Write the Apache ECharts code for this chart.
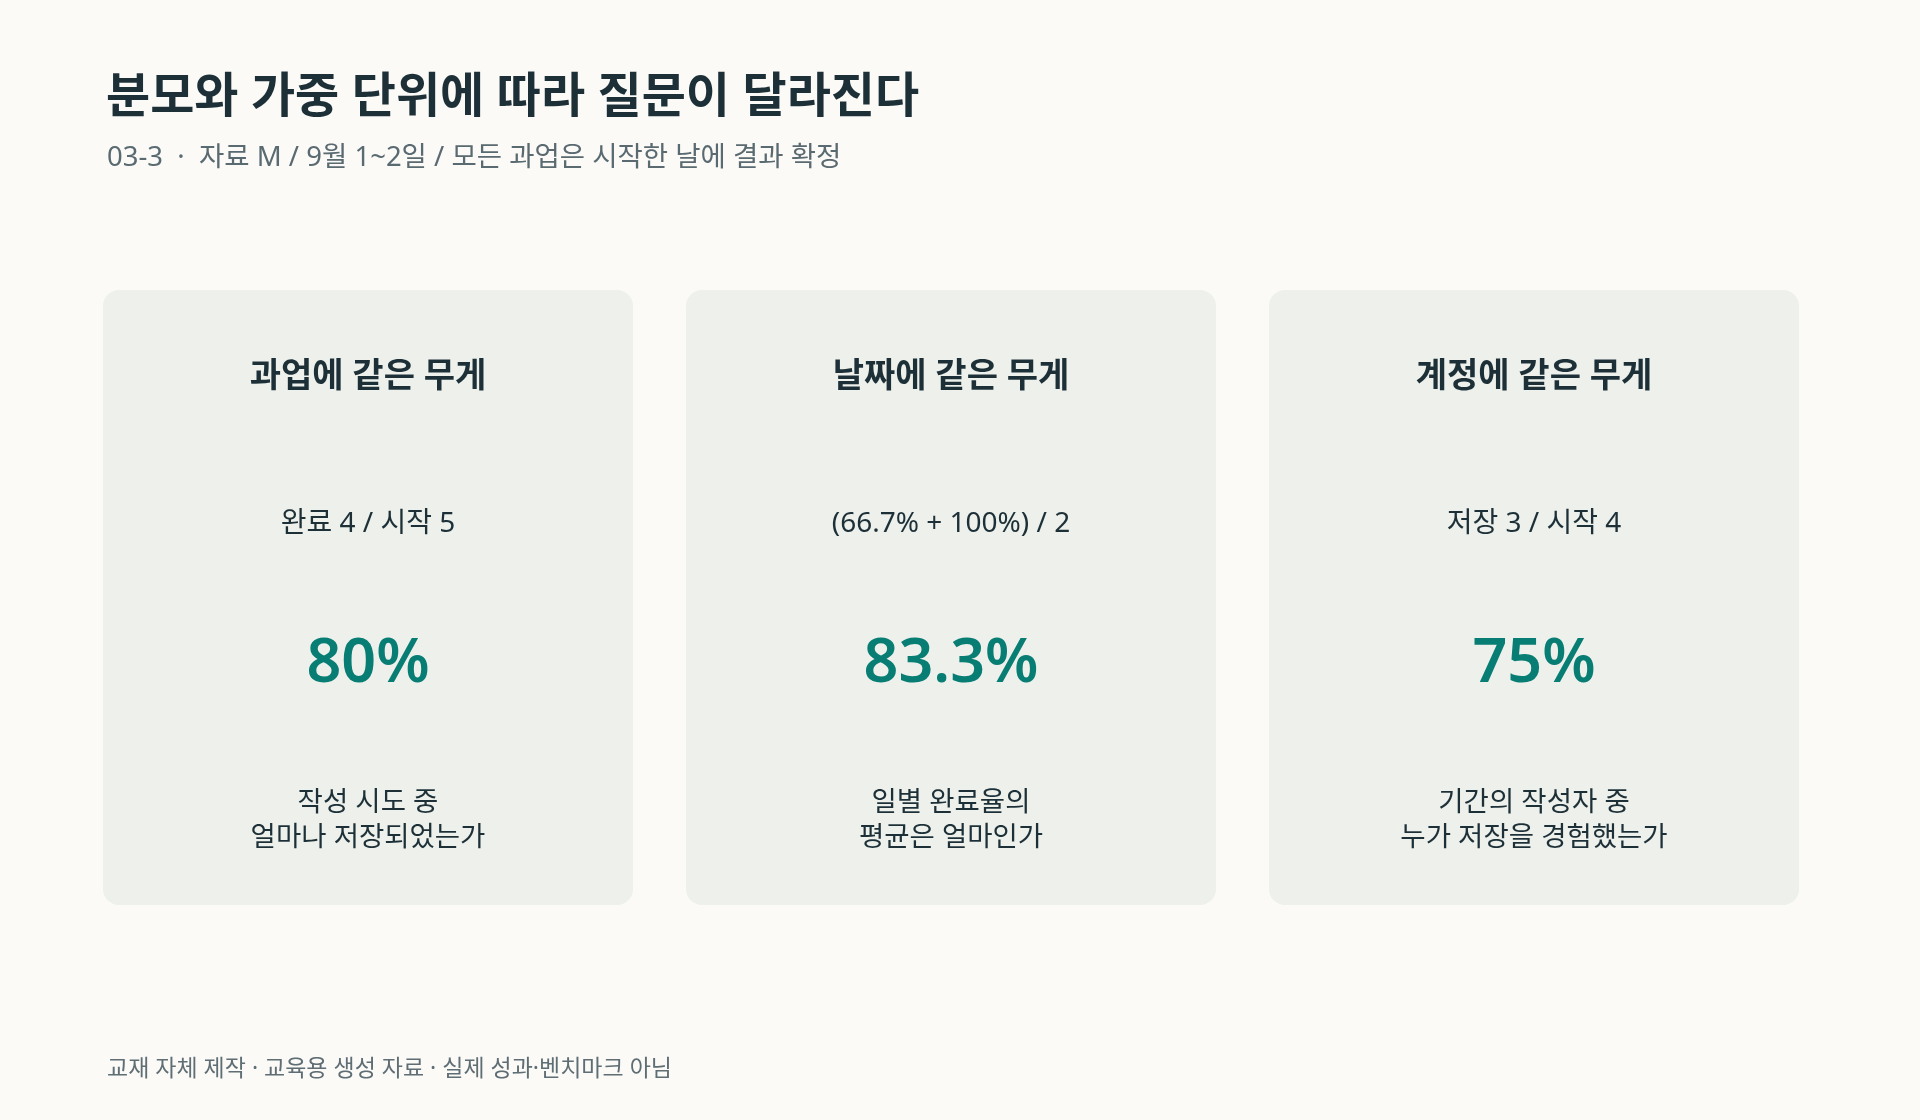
<!DOCTYPE html>
<html>
<head>
<meta charset="utf-8">
<script src="https://cdn.jsdelivr.net/npm/echarts@6/dist/echarts.min.js"></script>
<style>
  html, body { margin: 0; padding: 0; background: #fbfaf7; }
  #main { width: 1920px; height: 1120px; }
</style>
</head>
<body>
<div id="main"></div>
<script>
// 카드 데이터
const cardTitles = ['과업에 같은 무게', '날짜에 같은 무게', '계정에 같은 무게'];
const formulas = ['완료 4 / 시작 5', '(66.7% + 100%) / 2', '저장 3 / 시작 4'];
const values = [80, 83.3, 75];
const questions = [
  '작성 시도 중\n얼마나 저장되었는가',
  '일별 완료율의\n평균은 얼마인가',
  '기간의 작성자 중\n누가 저장을 경험했는가'
];

const FONT = '"Noto Sans", "Noto Sans CJK KR", sans-serif';
const INK = '#1d3038';
const TEAL = '#087d74';

const chart = echarts.init(document.getElementById('main'));

chart.setOption({
  backgroundColor: '#fbfaf7',
  title: [
    {
      text: '분모와 가중 단위에 따라 질문이 달라진다',
      left: 101, top: 69,
      textStyle: { fontFamily: FONT, fontSize: 48, fontWeight: 700, color: INK }
    },
    {
      text: '03-3  ·  자료 M / 9월 1~2일 / 모든 과업은 시작한 날에 결과 확정',
      left: 102, top: 139.5,
      textStyle: { fontFamily: FONT, fontSize: 27.5, fontWeight: 400, color: '#5a6a71' }
    },
    {
      text: '교재 자체 제작 · 교육용 생성 자료 · 실제 성과·벤치마크 아님',
      left: 102, top: 1053,
      textStyle: { fontFamily: FONT, fontSize: 23, fontWeight: 400, color: '#5f6e74' }
    }
  ],
  grid: { left: 76.5, right: 94.5, top: 290, bottom: 215 },
  xAxis: { type: 'category', data: cardTitles, show: false },
  yAxis: { type: 'value', min: 0, max: 1, show: false },
  series: [{
    type: 'custom',
    silent: true,
    data: values.map((v, i) => [i, v]),
    renderItem: function (params, api) {
      const i = api.value(0);
      const c = api.coord([i, 1]);
      const bottom = api.coord([i, 0])[1];
      const band = api.size([1, 0])[0];
      const w = band - 53;
      const top = c[1];
      const cx = c[0];
      const v = api.value(1);
      return {
        type: 'group',
        children: [
          {
            type: 'rect',
            shape: { x: cx - w / 2, y: top, width: w, height: bottom - top, r: 16 },
            style: { fill: '#edf0eb' }
          },
          {
            type: 'text',
            style: {
              text: cardTitles[i], x: cx, y: top + 87,
              align: 'center', verticalAlign: 'middle',
              fontFamily: FONT, fontSize: 34, fontWeight: 700, fill: INK
            }
          },
          {
            type: 'text',
            style: {
              text: formulas[i], x: cx, y: top + 234,
              align: 'center', verticalAlign: 'middle',
              fontFamily: FONT, fontSize: 28, fontWeight: 400, fill: INK
            }
          },
          {
            type: 'text',
            style: {
              text: v + '%', x: cx, y: top + 375,
              align: 'center', verticalAlign: 'middle',
              fontFamily: FONT, fontSize: 61, fontWeight: 600, fill: TEAL
            }
          },
          {
            type: 'text',
            style: {
              text: questions[i], x: cx, y: top + 531,
              align: 'center', verticalAlign: 'middle',
              lineHeight: 35,
              fontFamily: FONT, fontSize: 27.5, fontWeight: 400, fill: INK
            }
          }
        ]
      };
    }
  }]
});
</script>
</body>
</html>
